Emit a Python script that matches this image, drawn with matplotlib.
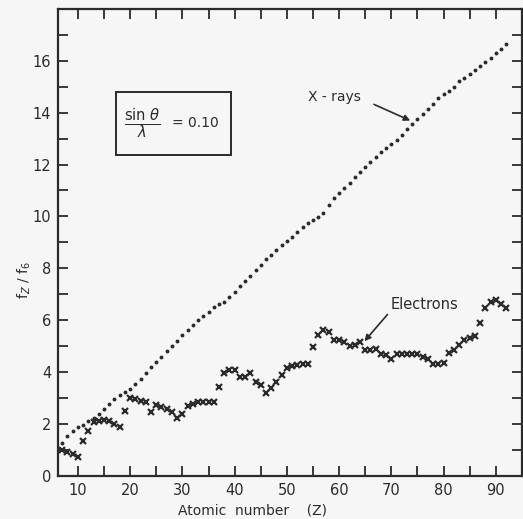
import numpy as np
import matplotlib
matplotlib.use("Agg")
import matplotlib.pyplot as plt
from matplotlib.patches import Rectangle
from matplotlib.ticker import MultipleLocator

# f_Z / f_6 ratio, one value per atomic number
z_xray = list(range(7, 93))
f_xray = [1.28, 1.52, 1.72, 1.88, 1.98, 2.10, 2.25, 2.38, 2.56, 2.76,
          2.96, 3.12, 3.25, 3.35, 3.53, 3.75, 3.98, 4.20, 4.40, 4.60,
          4.80, 5.00, 5.20, 5.42, 5.62, 5.82, 6.00, 6.17, 6.33, 6.50,
          6.63, 6.72, 6.90, 7.10, 7.30, 7.50, 7.72, 7.94, 8.14, 8.36,
          8.52, 8.70, 8.88, 9.05, 9.22, 9.40, 9.58, 9.74, 9.86, 9.96,
          10.12, 10.45, 10.70, 10.90, 11.10, 11.30, 11.50, 11.70, 11.90, 12.10,
          12.30, 12.50, 12.65, 12.80, 12.95, 13.15, 13.35, 13.55, 13.75, 13.95,
          14.15, 14.35, 14.55, 14.70, 14.85, 15.00, 15.20, 15.35, 15.50, 15.65,
          15.80, 15.95, 16.10, 16.28, 16.45, 16.65]

z_elec = list(range(7, 93))
f_elec = [1.00, 0.94, 0.86, 0.74, 1.35, 1.72, 2.08, 2.12, 2.15, 2.12,
          2.00, 1.88, 2.52, 3.00, 2.97, 2.90, 2.84, 2.45, 2.72, 2.66,
          2.57, 2.47, 2.24, 2.40, 2.68, 2.78, 2.84, 2.85, 2.85, 2.85,
          3.43, 3.95, 4.08, 4.08, 3.82, 3.82, 3.95, 3.63, 3.50, 3.18,
          3.40, 3.63, 3.89, 4.15, 4.25, 4.27, 4.30, 4.30, 4.98, 5.43,
          5.62, 5.56, 5.24, 5.24, 5.17, 5.02, 5.04, 5.15, 4.85, 4.85,
          4.88, 4.68, 4.65, 4.52, 4.68, 4.68, 4.68, 4.68, 4.68, 4.59,
          4.52, 4.33, 4.30, 4.36, 4.72, 4.85, 5.04, 5.24, 5.33, 5.40,
          5.88, 6.46, 6.72, 6.79, 6.62, 6.46]

x_ticks = [10, 20, 30, 40, 50, 60, 70, 80, 90]
y_ticks = [0, 2, 4, 6, 8, 10, 12, 14, 16]

ink = "#2b2b2b"
bg = "#f6f6f6"

fig = plt.figure(figsize=(5.23, 5.19), dpi=100, facecolor=bg)
ax = fig.add_axes([0.111, 0.083, 0.887, 0.900], facecolor=bg)

ax.plot(z_xray, f_xray, linestyle="none", marker="o", markersize=2.8,
        color=ink, markeredgewidth=0)
ax.plot(z_elec, f_elec, linestyle="none", marker="x", markersize=4,
        color=ink, markeredgewidth=1.6)

ax.set_xlim(6.2, 95)
ax.set_ylim(0, 18)
ax.set_xticks(x_ticks)
ax.set_yticks(y_ticks)
ax.xaxis.set_minor_locator(MultipleLocator(5))
ax.yaxis.set_minor_locator(MultipleLocator(1))
ax.tick_params(which="both", direction="in", length=7, width=1.3,
               colors=ink, top=True, right=True, labelsize=10.5, pad=5)
for s in ax.spines.values():
    s.set_color(ink)
    s.set_linewidth(1.6)

# axis titles placed by hand, as in the scanned figure
ax.text(0.42, -0.073, "Atomic  number    (Z)", transform=ax.transAxes,
        fontsize=10, color=ink, ha="center", va="center")
ax.text(-0.073, 0.42, "f$_Z$ / f$_6$", transform=ax.transAxes, rotation=90,
        fontsize=10, color=ink, ha="center", va="center")

# sin(theta)/lambda box
ax.add_patch(Rectangle((0.125, 0.686), 0.248, 0.136, transform=ax.transAxes,
                       fill=False, edgecolor=ink, linewidth=1.4))
ax.text(0.182, 0.754, r"$\frac{\mathrm{sin}\ \theta}{\lambda}$",
        transform=ax.transAxes, ha="center", va="center", fontsize=15, color=ink)
ax.text(0.245, 0.756, "= 0.10", transform=ax.transAxes, ha="left",
        va="center", fontsize=10, color=ink)

ax.annotate("", xy=(74.1, 13.65), xytext=(66.2, 14.36),
            arrowprops=dict(arrowstyle="-|>", color=ink, lw=1.2,
                            mutation_scale=9))
ax.text(54.0, 14.6, "X - rays", fontsize=10, color=ink, ha="left", va="center")
ax.annotate("", xy=(64.5, 5.11), xytext=(69.6, 6.3),
            arrowprops=dict(arrowstyle="-|>", color=ink, lw=1.2,
                            mutation_scale=9))
ax.text(69.8, 6.6, "Electrons", fontsize=10.5, color=ink, ha="left", va="center")

fig.savefig("out.png", dpi=100, facecolor=bg)
